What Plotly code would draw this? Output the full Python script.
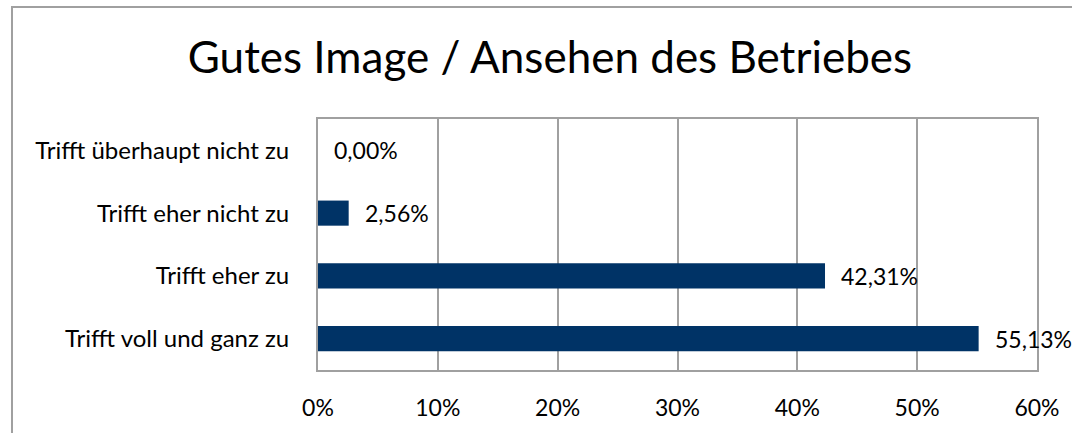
import plotly.graph_objects as go

# survey answers, top to bottom as shown
categories = ["Trifft überhaupt nicht zu", "Trifft eher nicht zu", "Trifft eher zu", "Trifft voll und ganz zu"]
shares = [0.00, 2.56, 42.31, 55.13]
tick_vals = [0, 10, 20, 30, 40, 50, 60]
tick_text = [f"{t}%" for t in tick_vals]

title_text = "Gutes Image / Ansehen des Betriebes"
bar_color = "#003366"
grey = "#a0a0a0"
font_family = "Lato, 'Open Sans', sans-serif"

labels = [f"{v:.2f}".replace(".", ",") + "%" for v in shares]

fig = go.Figure()
fig.add_trace(go.Bar(
    y=categories, x=shares, orientation="h",
    marker=dict(color=bar_color, line=dict(width=0)),
    width=0.4, showlegend=False, hoverinfo="skip",
))

# value labels to the right of each bar
for cat, val, lab in zip(categories, shares, labels):
    fig.add_annotation(x=val, y=cat, text=lab, showarrow=False,
                       xanchor="left", yanchor="middle", xshift=14,
                       font=dict(size=23, color="#000000", family=font_family))

# outer chart frame
fig.add_shape(type="rect", xref="paper", yref="paper",
              x0=-0.4256, x1=1.3, y0=-0.6, y1=1.446,
              line=dict(color=grey, width=2), layer="below")

fig.update_layout(
    width=1072, height=433,
    margin=dict(l=318, r=35, t=119, b=63),
    paper_bgcolor="white", plot_bgcolor="white",
    font=dict(family=font_family, color="#000000"),
    title=dict(text=title_text, x=550 / 1072, xanchor="center",
               y=1 - 58 / 433, yref="container", yanchor="middle",
               font=dict(size=44, family=font_family, color="#000000")),
    bargap=0.6,
)
fig.update_xaxes(range=[0, 60], tickvals=tick_vals, ticktext=tick_text,
                 showgrid=True, gridcolor=grey, gridwidth=2,
                 showline=True, linecolor=grey, linewidth=2, mirror=True,
                 zeroline=False, ticks="", ticklabelstandoff=16,
                 tickfont=dict(size=23, family=font_family, color="#000000"))
fig.update_yaxes(categoryorder="array", categoryarray=categories[::-1],
                 showline=True, linecolor=grey, linewidth=2, mirror=True,
                 showgrid=False, ticks="", ticklabelstandoff=22,
                 tickfont=dict(size=24, family=font_family, color="#000000"))

fig.write_html("out.html", config={"displayModeBar": False},
               post_script="document.body.style.margin='0';document.body.style.overflow='hidden';")
